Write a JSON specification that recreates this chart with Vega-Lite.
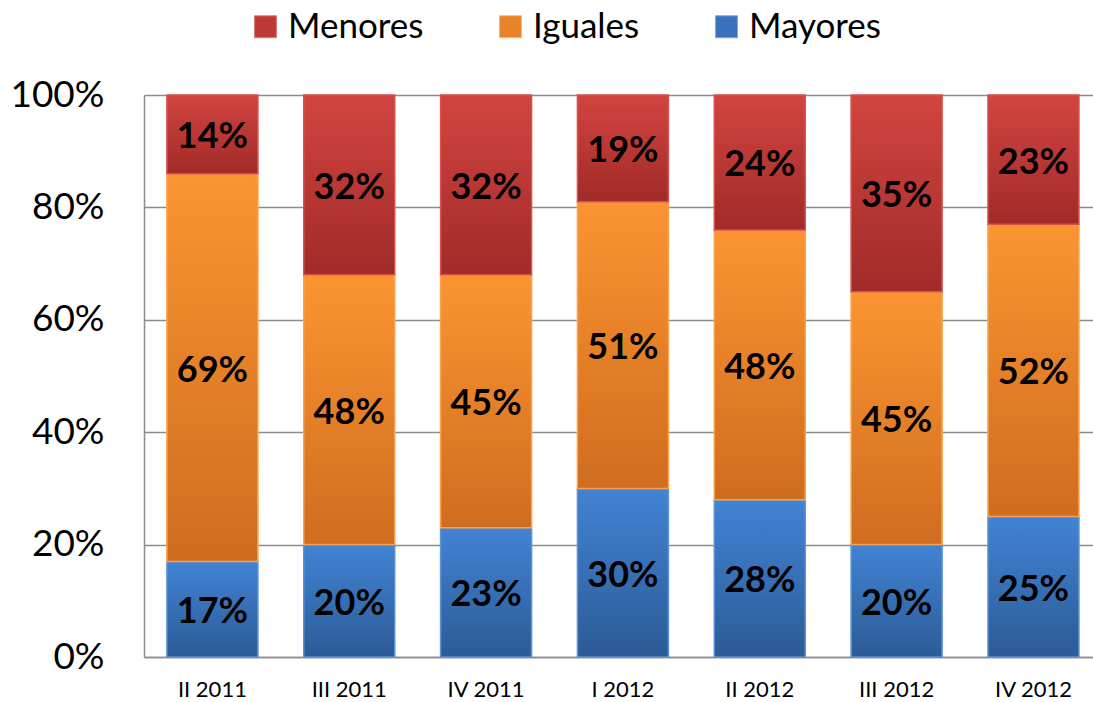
{
  "$schema": "https://vega.github.io/schema/vega-lite/v6.json",
  "width": 949,
  "height": 562,
  "autosize": {"type": "none"},
  "padding": {"left": 144, "top": 95, "right": 0, "bottom": 45},
  "background": "white",
  "config": {
    "view": {"stroke": null},
    "font": "Lato"
  },
  "data": {
    "values": [
      {"q": "II 2011", "s": "Mayores", "v": 0.17},
      {"q": "II 2011", "s": "Iguales", "v": 0.69},
      {"q": "II 2011", "s": "Menores", "v": 0.14},
      {"q": "III 2011", "s": "Mayores", "v": 0.20},
      {"q": "III 2011", "s": "Iguales", "v": 0.48},
      {"q": "III 2011", "s": "Menores", "v": 0.32},
      {"q": "IV 2011", "s": "Mayores", "v": 0.23},
      {"q": "IV 2011", "s": "Iguales", "v": 0.45},
      {"q": "IV 2011", "s": "Menores", "v": 0.32},
      {"q": "I 2012", "s": "Mayores", "v": 0.30},
      {"q": "I 2012", "s": "Iguales", "v": 0.51},
      {"q": "I 2012", "s": "Menores", "v": 0.19},
      {"q": "II 2012", "s": "Mayores", "v": 0.28},
      {"q": "II 2012", "s": "Iguales", "v": 0.48},
      {"q": "II 2012", "s": "Menores", "v": 0.24},
      {"q": "III 2012", "s": "Mayores", "v": 0.20},
      {"q": "III 2012", "s": "Iguales", "v": 0.45},
      {"q": "III 2012", "s": "Menores", "v": 0.35},
      {"q": "IV 2012", "s": "Mayores", "v": 0.25},
      {"q": "IV 2012", "s": "Iguales", "v": 0.52},
      {"q": "IV 2012", "s": "Menores", "v": 0.23}
    ]
  },
  "transform": [
    {"window": [{"op": "row_number", "as": "k"}], "groupby": ["q"]},
    {"stack": "v", "groupby": ["q"], "sort": [{"field": "k", "order": "ascending"}], "as": ["y0", "y1"]}
  ],
  "encoding": {
    "x": {
      "field": "q",
      "type": "nominal",
      "sort": ["II 2011", "III 2011", "IV 2011", "I 2012", "II 2012", "III 2012", "IV 2012"],
      "scale": {"paddingInner": 0.335, "paddingOuter": 0.135, "align": 0.62},
      "axis": {
        "title": null,
        "labelAngle": 0,
        "ticks": false,
        "labelFont": "Lato",
        "labelFontSize": 22,
        "labelColor": "#000000",
        "labelPadding": 22,
        "domainColor": "#8c8c8c",
        "domainWidth": 1.5,
        "grid": false
      }
    },
    "y": {
      "field": "y0",
      "type": "quantitative",
      "scale": {"domain": [0, 1], "nice": false},
      "axis": {
        "title": null,
        "values": [0, 0.2, 0.4, 0.6, 0.8, 1],
        "format": ".0%",
        "ticks": false,
        "labelFont": "Lato",
        "labelFontSize": 37,
        "labelColor": "#000000",
        "labelPadding": 40,
        "domainColor": "#8c8c8c",
        "domainWidth": 1.5,
        "gridColor": "#8c8c8c",
        "gridWidth": 1.5
      }
    },
    "y2": {"field": "y1"}
  },
  "layer": [
    {
      "mark": {"type": "bar"},
      "encoding": {
        "color": {
          "field": "s",
          "type": "nominal",
          "scale": {
            "domain": ["Menores", "Iguales", "Mayores"],
            "range": ["#bf3a36", "#e98229", "#3a72bd"]
          },
          "legend": {
            "title": null,
            "orient": "none",
            "direction": "horizontal",
            "legendX": 104,
            "legendY": -86,
            "symbolType": "square",
            "symbolSize": 480,
            "symbolStrokeWidth": 1,
            "labelFont": "Lato",
            "labelFontSize": 35,
            "labelColor": "#000000",
            "labelOffset": 5,
            "columnPadding": 69,
            "labelLimit": 300,
            "symbolOpacity": 1,
            "encode": {
              "symbols": {
                "update": {
                  "fill": {"signal": "datum.value === 'Menores' ? {gradient: 'linear', x1: 0, y1: 0, x2: 0, y2: 1, stops: [{offset: 0, color: '#d3443f'}, {offset: 1, color: '#a02b29'}]} : datum.value === 'Iguales' ? {gradient: 'linear', x1: 0, y1: 0, x2: 0, y2: 1, stops: [{offset: 0, color: '#fb9532'}, {offset: 1, color: '#d06c1f'}]} : {gradient: 'linear', x1: 0, y1: 0, x2: 0, y2: 1, stops: [{offset: 0, color: '#4283d4'}, {offset: 1, color: '#2c5b96'}]}"},
                  "stroke": {"signal": "datum.value === 'Menores' ? '#e07a76' : datum.value === 'Iguales' ? '#fcb56a' : '#7aa8e0'"}
                }
              }
            }
          }
        }
      }
    },
    {
      "mark": {"type": "bar", "strokeWidth": 1.5},
      "encoding": {
        "fill": {
          "condition": [
            {"test": "datum.s === 'Menores'", "value": {"gradient": "linear", "x1": 0, "y1": 0, "x2": 0, "y2": 1, "stops": [{"offset": 0, "color": "#d3443f"}, {"offset": 1, "color": "#a02b29"}]}},
            {"test": "datum.s === 'Iguales'", "value": {"gradient": "linear", "x1": 0, "y1": 0, "x2": 0, "y2": 1, "stops": [{"offset": 0, "color": "#fb9532"}, {"offset": 1, "color": "#d06c1f"}]}}
          ],
          "value": {"gradient": "linear", "x1": 0, "y1": 0, "x2": 0, "y2": 1, "stops": [{"offset": 0, "color": "#4283d4"}, {"offset": 1, "color": "#2c5b96"}]}
        },
        "stroke": {
          "condition": [
            {"test": "datum.s === 'Menores'", "value": "#d9524e"},
            {"test": "datum.s === 'Iguales'", "value": "#fba24c"}
          ],
          "value": "#5b93d8"
        },
        "fillOpacity": {"value": 1}
      }
    },
    {
      "transform": [
        {"fold": ["y0", "y1"], "as": ["kk", "yy"]},
        {"aggregate": [{"op": "mean", "field": "yy", "as": "mid"}], "groupby": ["q", "s", "v"]}
      ],
      "mark": {"type": "text", "font": "Lato", "fontWeight": "bold", "fontSize": 36, "color": "#000000", "baseline": "middle", "align": "center", "dy": 3},
      "encoding": {
        "y": {"field": "mid", "type": "quantitative"},
        "y2": null,
        "text": {"field": "v", "type": "quantitative", "format": ".0%"}
      }
    }
  ]
}
